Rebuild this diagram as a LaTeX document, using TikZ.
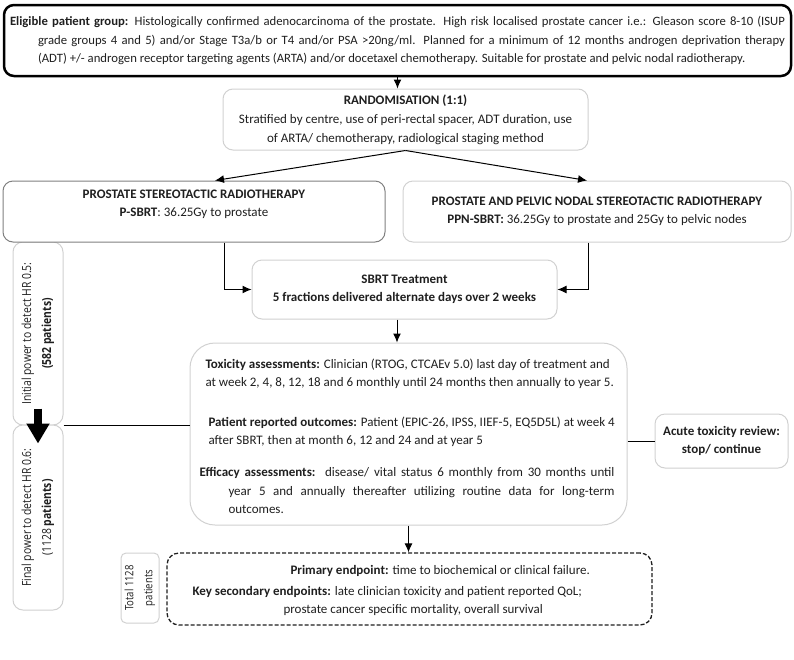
\documentclass[tikz,border=0pt]{standalone}
\usepackage{fontspec}
\setmainfont{Carlito}
\newfontfamily\segoe[FakeStretch=0.83]{Open Sans}
\usetikzlibrary{arrows.meta}
\definecolor{lightgray}{rgb}{0.82, 0.82, 0.82}
\definecolor{midgray}{rgb}{0.5, 0.5, 0.5}
\definecolor{ink}{rgb}{0.12, 0.12, 0.12}

\begin{document}
\begin{tikzpicture}[x=1pt,y=-1pt,
		font=\fontsize{13}{18.5}\selectfont, text=ink, line width=1pt,
		>={Latex[length=9pt,width=8pt]},
		box/.style={draw=lightgray, fill=white, rounded corners=10pt, align=center, inner sep=0pt},
		pow/.style={box, rotate=90, minimum height=50, font=\segoe\fontsize{12.5}{20}\selectfont},
		txt/.style={anchor=west, inner sep=0pt, align=left}]
		\useasboundingbox (0,0) rectangle (794,659);
		% side boxes first, so the arm box covers their top
		\node[pow, minimum width=183] (pow1) at (38,333.5) {Initial power to detect HR 0.5:\\ \textbf{(582 patients)}};
		\node[pow, minimum width=185] (pow2) at (38,517.5) {Final power to detect HR 0.6:\\ (1128 \textbf{patients)}};
		\node[pow, minimum width=70, minimum height=38, rounded corners=5pt, font=\segoe\fontsize{11.5}{19}\selectfont] (total) at (140,588) {Total 1128\\ patients};

		\node[draw=black, line width=2.5pt, rounded corners=10pt, minimum width=787, minimum height=71, inner sep=0pt, font=\fontsize{12.7}{18.5}\selectfont] (elig) at (397.5,40.5) {\parbox{775pt}{\hangindent=28pt\hangafter=1 \textbf{Eligible patient group:} Histologically confirmed adenocarcinoma of the prostate. High risk localised prostate cancer i.e.: Gleason score 8-10 (ISUP\break grade groups 4 and 5) and/or Stage T3a/b or T4 and/or PSA >20ng/ml. Planned for a minimum of 12 months androgen deprivation therapy\break (ADT) +/- androgen receptor targeting agents (ARTA) and/or docetaxel chemotherapy. Suitable for prostate and pelvic nodal radiotherapy.}};
		\node[box, minimum width=365, minimum height=61] (rand) at (405.5,119.5) {\textbf{RANDOMISATION (1:1)}\\[1pt] Stratified by centre, use of peri-rectal spacer, ADT duration, use\\ of ARTA/ chemotherapy, radiological staging method};
		\node[box, draw=midgray, minimum width=382, minimum height=61, text depth=17pt] (armL) at (194,211.5) {\textbf{PROSTATE STEREOTACTIC RADIOTHERAPY}\\ \textbf{P-SBRT}: 36.25Gy to prostate};
		\node[box, minimum width=388, minimum height=61] (armR) at (597,211.5) {\textbf{PROSTATE AND PELVIC NODAL STEREOTACTIC RADIOTHERAPY}\\ \textbf{PPN-SBRT:} 36.25Gy to prostate and 25Gy to pelvic nodes};
		\node[box, minimum width=305, minimum height=59] (sbrt) at (404.5,289.5) {\textbf{SBRT Treatment}\\ \textbf{5 fractions delivered alternate days over 2 weeks}};

		% assessments
		\node[box, rounded corners=25pt, minimum width=437, minimum height=182] (assess) at (408.5,434) {};
		\node[txt] (tox) at (205,374) {\textbf{Toxicity assessments:} Clinician (RTOG, CTCAEv 5.0) last day of treatment and\\ at week 2, 4, 8, 12, 18 and 6 monthly until 24 months then annually to year 5.};
		\node[txt] (pro) at (208,432) {\textbf{Patient reported outcomes:} Patient (EPIC-26, IPSS, IIEF-5, EQ5D5L) at week 4\\ after SBRT, then at month 6, 12 and 24 and at year 5};
		\node[txt] (eff) at (199,490.5) {\parbox{415pt}{\hangindent=29pt\hangafter=1 \textbf{Efficacy assessments:}\ \ disease/ vital status 6 monthly from 30 months until\break year 5 and annually thereafter utilizing routine data for long-term\break outcomes.}};
		\node[box, minimum width=133, minimum height=54] (acute) at (721.5,441) {\textbf{Acute toxicity review:}\\ \textbf{stop/ continue}};

		% endpoints
		\node[draw=ink, dash pattern=on 4pt off 2pt, line width=1.3pt, rounded corners=12pt, minimum width=485, minimum height=72] (endp) at (409.5,589) {};
		\node[txt] (endtxt) at (192,590.5) {\hspace*{98pt}\textbf{Primary endpoint:} time to biochemical or clinical failure.\\[2pt] \textbf{Key secondary endpoints:} late clinician toxicity and patient reported QoL;\\ \hspace*{91pt}prostate cancer specific mortality, overall survival};

		\draw[->] (elig.south) -- (elig.south |- rand.north);
		\draw[->] (rand.south) -- ([xshift=21pt]armL.north);
		\draw[->] (rand.south) -- ([xshift=-10pt]armR.north);
		\draw[->] ([xshift=30pt]armL.south) |- (sbrt.west);
		\draw[->] ([xshift=-9pt]armR.south) |- (sbrt.east);
		\draw[->] ([xshift=-7.5pt]sbrt.south) -- ([xshift=-11.5pt]assess.north);
		\draw[->] (assess.south) -- (assess.south |- endp.north);
		\draw (pow1.south west) -- (pow1.south west -| assess.west);
		\draw (assess.east |- acute.west) -- (acute.west);
		\draw[line width=8pt, -{Triangle[length=20pt,width=22pt]}] ([yshift=17pt]pow1.west) -- ([yshift=-18pt]pow1.west);
		\end{tikzpicture}
\end{document}
